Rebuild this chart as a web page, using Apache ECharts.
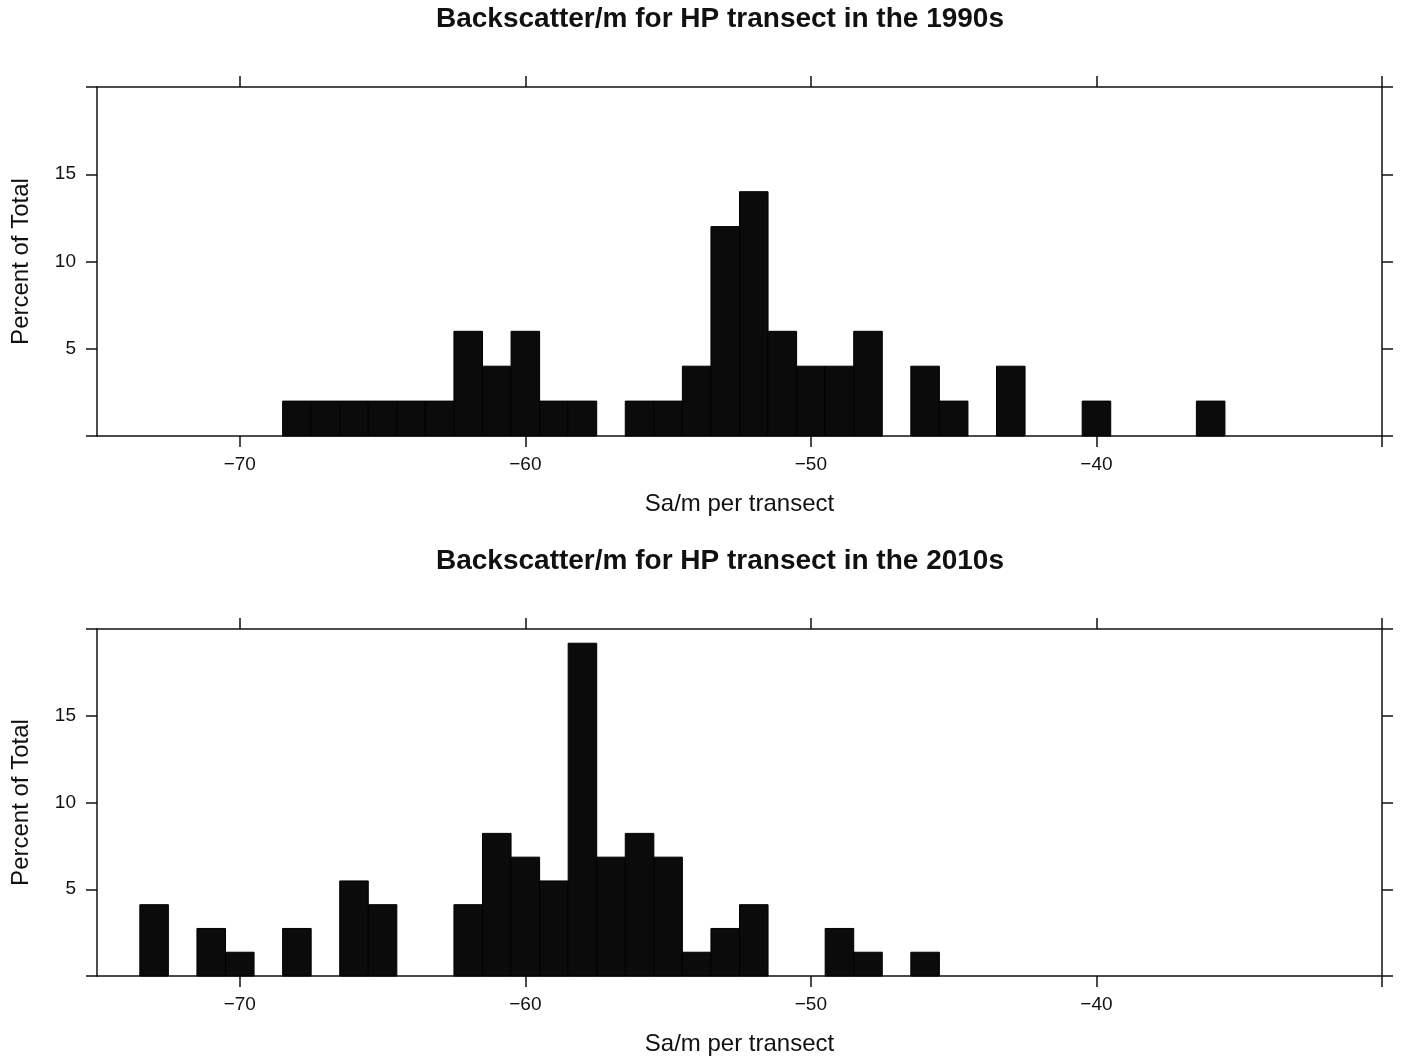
<!DOCTYPE html>
<html>
<head>
<meta charset="utf-8">
<title>Backscatter/m for HP transect</title>
<script src="https://cdn.jsdelivr.net/npm/echarts@6/dist/echarts.min.js"></script>
<style>
  html, body { margin: 0; padding: 0; background: #ffffff; }
  #chart { width: 1402px; height: 1063px; }
</style>
</head>
<body>
<div id="chart"></div>
<script>
// Histogram bins: centres in Sa/m, height in percent of total. Bin width is 1.
const BIN_WIDTH = 1;

const centers1990s = [-68, -67, -66, -65, -64, -63, -62, -61, -60, -59, -58,
                      -56, -55, -54, -53, -52, -51, -50, -49, -48,
                      -46, -45, -43, -40, -36];
const percent1990s = [2, 2, 2, 2, 2, 2, 6, 4, 6, 2, 2,
                      2, 2, 4, 12, 14, 6, 4, 4, 6,
                      4, 2, 4, 2, 2];

const centers2010s = [-73, -71, -70, -68, -66, -65, -62, -61, -60, -59, -58,
                      -57, -56, -55, -54, -53, -52, -49, -48, -46];
const percent2010s = [4.11, 2.74, 1.37, 2.74, 5.48, 4.11, 4.11, 8.22, 6.85, 5.48, 19.18,
                      6.85, 8.22, 6.85, 1.37, 2.74, 4.11, 2.74, 1.37, 1.37];

const titles = ['Backscatter/m for HP transect in the 1990s',
                'Backscatter/m for HP transect in the 2010s'];
const xTitle = 'Sa/m per transect';
const yTitle = 'Percent of Total';

const xTicks = [-70, -60, -50, -40, -30];
const xTickLabels = [-70, -60, -50, -40];
const yTickLabels = [5, 10, 15];

const FONT = '"Liberation Sans", Arial, Helvetica, sans-serif';
const INK = '#111111';

const chart = echarts.init(document.getElementById('chart'), null, { renderer: 'canvas' });

const axisLine = { show: true, onZero: false, lineStyle: { color: INK, width: 1.5 } };
const axisTick = { show: true, inside: false, length: 11, lineStyle: { color: INK, width: 1.5 } };
const minusSign = v => String(v).replace('-', '\u2212');

function xAxisFor(gridIndex, position, labelled) {
  return {
    type: 'value', gridIndex, position,
    min: -75, max: -30,
    axisLine,
    axisTick: Object.assign({}, axisTick, { customValues: xTicks }),
    axisLabel: labelled ? {
      show: true, customValues: xTickLabels, margin: 19,
      fontFamily: FONT, fontSize: 19, color: INK, formatter: minusSign
    } : { show: false },
    splitLine: { show: false },
    name: labelled ? xTitle : '',
    nameLocation: 'middle', nameGap: 56,
    nameTextStyle: { fontFamily: FONT, fontSize: 24, color: INK }
  };
}

function yAxisFor(gridIndex, position, labelled) {
  return {
    type: 'value', gridIndex, position,
    min: 0, max: 20, interval: 5,
    axisLine,
    axisTick,
    axisLabel: labelled ? {
      show: true, margin: 21, fontFamily: FONT, fontSize: 19, color: INK,
      formatter: v => (yTickLabels.indexOf(v) >= 0 ? String(v) : '')
    } : { show: false },
    splitLine: { show: false },
    name: labelled ? yTitle : '',
    nameLocation: 'middle', nameGap: 64,
    nameTextStyle: { fontFamily: FONT, fontSize: 24, color: INK }
  };
}

function renderBin(params, api) {
  const c = api.value(0);
  const h = api.value(1);
  const topLeft = api.coord([c - BIN_WIDTH / 2, h]);
  const bottomRight = api.coord([c + BIN_WIDTH / 2, 0]);
  return {
    type: 'rect',
    shape: {
      x: topLeft[0], y: topLeft[1],
      width: bottomRight[0] - topLeft[0],
      height: bottomRight[1] - topLeft[1]
    },
    style: { fill: '#0b0b0b', stroke: '#000000', lineWidth: 1 }
  };
}

function histSeries(centers, values, xi, yi) {
  return {
    type: 'custom',
    xAxisIndex: xi, yAxisIndex: yi,
    renderItem: renderBin,
    encode: { x: 0, y: 1 },
    data: centers.map((c, i) => [c, values[i]]),
    silent: true
  };
}

chart.setOption({
  backgroundColor: '#ffffff',
  animation: false,
  grid: [
    { left: 97, top: 87, width: 1285, height: 349 },
    { left: 97, top: 629, width: 1285, height: 347 }
  ],
  xAxis: [
    xAxisFor(0, 'bottom', true),
    xAxisFor(0, 'top', false),
    xAxisFor(1, 'bottom', true),
    xAxisFor(1, 'top', false)
  ],
  yAxis: [
    yAxisFor(0, 'left', true),
    yAxisFor(0, 'right', false),
    yAxisFor(1, 'left', true),
    yAxisFor(1, 'right', false)
  ],
  graphic: [
    { type: 'text', x: 720, y: 19, style: { text: titles[0], textAlign: 'center', textVerticalAlign: 'middle', font: 'bold 28px ' + FONT, fill: INK } },
    { type: 'text', x: 720, y: 561, style: { text: titles[1], textAlign: 'center', textVerticalAlign: 'middle', font: 'bold 28px ' + FONT, fill: INK } }
  ],
  series: [
    histSeries(centers1990s, percent1990s, 0, 0),
    histSeries(centers2010s, percent2010s, 2, 2)
  ]
});
</script>
</body>
</html>
